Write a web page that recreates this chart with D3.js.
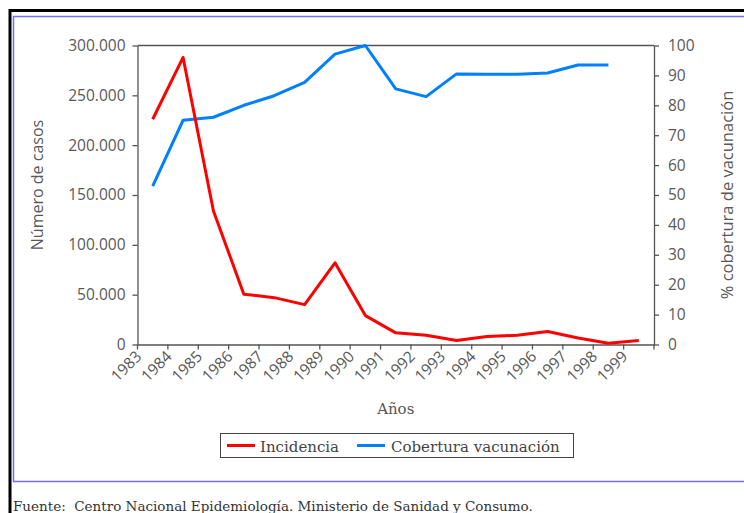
<!DOCTYPE html>
<html>
<head>
<meta charset="utf-8">
<script src="https://cdn.jsdelivr.net/npm/d3@7"></script>
<style>
  html, body { margin: 0; padding: 0; background: #fff; }
  svg { display: block; }
</style>
</head>
<body>
<svg id="chart" width="744" height="513"></svg>
<script>
const years = ["1983","1984","1985","1986","1987","1988","1989","1990","1991","1992","1993","1994","1995","1996","1997","1998","1999"];
const incidencia = [226000, 288000, 134000, 50500, 47000, 40000, 82000, 29000, 11700, 9300, 4000, 8000, 9300, 13000, 6600, 1300, 4000];
const cobertura = [53.0, 75.0, 76.0, 80.0, 83.2, 87.7, 97.1, 100, 85.5, 82.9, 90.5, 90.4, 90.4, 90.8, 93.5, 93.5, null];
const leftTicks = [0, 50000, 100000, 150000, 200000, 250000, 300000];
const rightTicks = [0, 10, 20, 30, 40, 50, 60, 70, 80, 90, 100];
const leftTitle = "Número de casos";
const rightTitle = "% cobertura de vacunación";
const xTitle = "Años";
const seriesNames = ["Incidencia", "Cobertura vacunación"];
const seriesColors = ["#ff0000", "#0080ff"];
const sourceText = "Fuente:  Centro Nacional Epidemiología. Ministerio de Sanidad y Consumo.";

(function () {
const svg = d3.select("#chart");
const sansFont = "'Open Sans', sans-serif";
const serifFont = "'DejaVu Serif', serif";
const axisColor = "#555";
const textColor = "#595959";

// frames
svg.append("rect").attr("x", 13.5).attr("y", 16.5).attr("width", 740).attr("height", 465)
  .attr("fill", "none").attr("stroke", "#6f6fff").attr("stroke-width", 1.5);
svg.append("path").attr("d", "M10,513V10.5H744").attr("fill", "none").attr("stroke", "#000").attr("stroke-width", 3);

const pL = 137.5, pR = 654, pT = 45.5, pB = 344.5;
const x = d3.scaleBand().domain(years).range([pL, pR]);
const yL = d3.scaleLinear().domain([0, 300000]).range([pB, pT]);
const yR = d3.scaleLinear().domain([0, 100]).range([pB, pT]);
const loc = d3.formatLocale({decimal: ",", thousands: ".", grouping: [3], currency: ["", "€"]});
const fmt = loc.format(",");

function styleAxis(g) {
  g.selectAll(".domain").attr("stroke", axisColor).attr("stroke-width", 1.3);
  g.selectAll(".tick line").attr("stroke", axisColor).attr("stroke-width", 1.3);
  g.selectAll(".tick text").attr("fill", textColor).style("font-family", sansFont).style("font-size", "15.5px");
}

// top border line
svg.append("line").attr("x1", pL).attr("x2", pR).attr("y1", pT).attr("y2", pT)
  .attr("stroke", axisColor).attr("stroke-width", 1.3);

const gL = svg.append("g").attr("transform", `translate(${pL},0)`)
  .call(d3.axisLeft(yL).tickValues(leftTicks).tickFormat(fmt).tickSize(5).tickSizeOuter(0).tickPadding(7));
styleAxis(gL);
const gR = svg.append("g").attr("transform", `translate(${pR},0)`)
  .call(d3.axisRight(yR).tickValues(rightTicks).tickSize(5).tickSizeOuter(0).tickPadding(9));
styleAxis(gR);

// bottom axis: domain line plus ticks at category boundaries
const gB = svg.append("g").attr("transform", `translate(0,${pB})`)
  .call(d3.axisBottom(x).tickSize(0).tickSizeOuter(0).tickFormat(""));
gB.selectAll(".tick").remove();
styleAxis(gB);
const bounds = years.map(d => x(d)).concat([x.range()[1]]);
gB.selectAll("line.bt").data(bounds).join("line").attr("class", "bt")
  .attr("x1", d => d).attr("x2", d => d).attr("y1", 0).attr("y2", 5)
  .attr("stroke", axisColor).attr("stroke-width", 1.3);
gB.selectAll("text.lbl").data(years).join("text").attr("class", "lbl")
  .attr("text-anchor", "end")
  .attr("transform", d => `translate(${x(d) + 5},${13}) rotate(-45)`)
  .attr("fill", textColor).style("font-family", sansFont).style("font-size", "15.5px")
  .text(d => d);

// axis titles
svg.append("text").attr("text-anchor", "middle")
  .attr("transform", `translate(43,185) rotate(-90)`)
  .attr("fill", textColor).style("font-family", sansFont).style("font-size", "16px").text(leftTitle);
svg.append("text").attr("text-anchor", "middle")
  .attr("transform", `translate(733,${(pT + pB) / 2}) rotate(-90)`)
  .attr("fill", textColor).style("font-family", sansFont).style("font-size", "16.5px").text(rightTitle);
svg.append("text").attr("text-anchor", "middle")
  .attr("x", (pL + pR) / 2).attr("y", 414)
  .attr("fill", "#555").style("font-family", serifFont).style("font-size", "15px").text(xTitle);

// lines
const cx = d => x(d) + x.bandwidth() / 2;
const lineL = d3.line().x((d, i) => cx(years[i])).y(d => yL(d));
const lineR = d3.line().defined(d => d != null).x((d, i) => cx(years[i])).y(d => yR(d));
svg.append("path").datum(cobertura).attr("d", lineR).attr("fill", "none")
  .attr("stroke", seriesColors[1]).attr("stroke-width", 3).attr("stroke-linejoin", "round");
svg.append("path").datum(incidencia).attr("d", lineL).attr("fill", "none")
  .attr("stroke", seriesColors[0]).attr("stroke-width", 3).attr("stroke-linejoin", "round");

// legend
const lg = svg.append("g");
lg.append("rect").attr("x", 220.5).attr("y", 433.5).attr("width", 353).attr("height", 24)
  .attr("fill", "#fff").attr("stroke", "#444").attr("stroke-width", 1);
const legendItems = [{sx: 227, tx: 260}, {sx: 357, tx: 391}];
legendItems.forEach((it, i) => {
  lg.append("line").attr("x1", it.sx).attr("x2", it.sx + 28).attr("y1", 445.5).attr("y2", 445.5)
    .attr("stroke", seriesColors[i]).attr("stroke-width", 3);
  lg.append("text").attr("x", it.tx).attr("y", 451.5).attr("fill", "#444")
    .style("font-family", serifFont).style("font-size", "15px").text(seriesNames[i]);
});

// source
svg.append("text").attr("x", 13).attr("y", 511).attr("fill", "#333")
  .style("font-family", serifFont).style("font-size", "13.5px").style("white-space", "pre")
  .text(sourceText);
})();
</script>
</body>
</html>
